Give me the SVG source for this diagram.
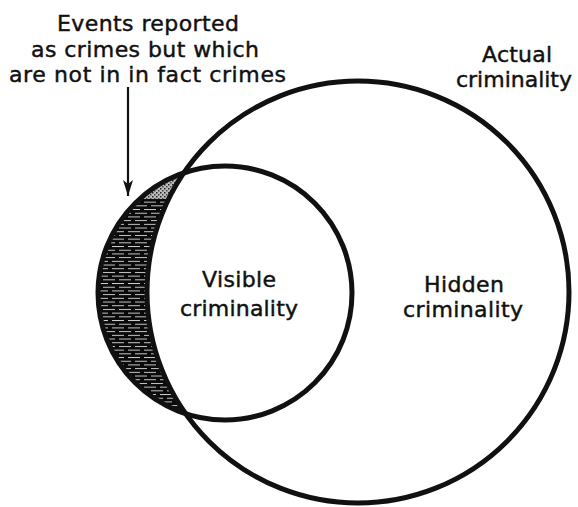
<svg xmlns="http://www.w3.org/2000/svg" width="578" height="507" viewBox="0 0 578 507">
<style>
.lbl{font-family:"DejaVu Sans","Liberation Sans",sans-serif;font-size:22px;fill:#111;stroke:#111;stroke-width:0.45;text-anchor:middle}
.ring{fill:none;stroke:#111;stroke-width:5}
.conn{stroke:#111;stroke-width:2.2;fill:none}
</style>
<defs>
<pattern id="hatch" patternUnits="userSpaceOnUse" width="16" height="7.4">
<rect width="16" height="7.4" fill="#0a0a0a"/>
<rect x="0" y="2" width="12" height="0.8" fill="#f4f4f4"/>
<rect x="7" y="5.7" width="9" height="0.8" fill="#f4f4f4"/>
<rect x="0" y="5.7" width="3" height="0.8" fill="#f4f4f4"/>
</pattern>
<pattern id="stipple" patternUnits="userSpaceOnUse" width="4" height="4">
<rect width="4" height="4" fill="#bbb"/>
<rect x="0" y="0" width="1.5" height="1.5" fill="#222"/>
<rect x="2" y="2" width="1.5" height="1.5" fill="#444"/>
</pattern>
<clipPath id="crescentClip">
<path d="M184.8,172.5 A127,127 0 0 0 184.8,413.5 A211,211 0 0 1 184.8,172.5 Z"/>
</clipPath>
<marker id="arrow" markerUnits="userSpaceOnUse" markerWidth="18" markerHeight="12" refX="16" refY="6" orient="auto" viewBox="0 0 18 12">
<path d="M16,6 L0,1 L4,6 L0,11 Z" fill="#111"/>
</marker>
</defs>
<rect width="578" height="507" fill="#fff"/>
<g id="crescent">
<path d="M184.8,172.5 A127,127 0 0 0 184.8,413.5 A211,211 0 0 1 184.8,172.5 Z" fill="url(#hatch)"/>
<rect x="140" y="165" width="60" height="34" fill="url(#stipple)" clip-path="url(#crescentClip)"/>
</g>
<g id="actual">
<circle class="ring" cx="358" cy="292" r="211"/>
<text class="lbl" x="517" y="62" textLength="70" lengthAdjust="spacing">Actual</text>
<text class="lbl" x="514" y="87" textLength="116" lengthAdjust="spacing">criminality</text>
</g>
<g id="visible">
<circle class="ring" cx="225" cy="293" r="127"/>
<text class="lbl" x="239" y="287" textLength="74" lengthAdjust="spacing">Visible</text>
<text class="lbl" x="239" y="316" textLength="118" lengthAdjust="spacing">criminality</text>
</g>
<g id="hidden">
<text class="lbl" x="464" y="292" textLength="80" lengthAdjust="spacing">Hidden</text>
<text class="lbl" x="463" y="317" textLength="120" lengthAdjust="spacing">criminality</text>
</g>
<g id="note">
<text class="lbl" x="148" y="31" textLength="182" lengthAdjust="spacing">Events reported</text>
<text class="lbl" x="145" y="57" textLength="228" lengthAdjust="spacing">as crimes but which</text>
<text class="lbl" x="147.5" y="82" textLength="277" lengthAdjust="spacing">are not in in fact crimes</text>
</g>
<g id="connectors">
<line class="conn" x1="128" y1="87" x2="128" y2="196" marker-end="url(#arrow)"/>
</g>
</svg>
